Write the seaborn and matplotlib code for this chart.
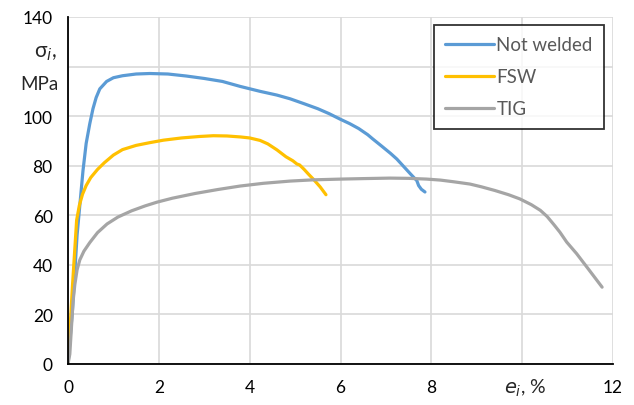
import matplotlib
matplotlib.use("Agg")
import matplotlib.pyplot as plt
import seaborn as sns
import pandas as pd

# Curves (strain e_i in %, stress sigma_i in MPa)
nw_e = [0.0, 0.10, 0.20, 0.26, 0.33, 0.40, 0.48, 0.55, 0.62, 0.70, 0.85, 1.00, 1.20, 1.50,
        1.80, 2.20, 2.60, 3.00, 3.40, 3.79, 4.23, 4.60, 4.89, 5.20, 5.50, 5.75, 5.99, 6.20,
        6.40, 6.60, 6.71, 6.90, 7.10, 7.24, 7.40, 7.55, 7.68, 7.72, 7.78, 7.86]
nw_s = [0.0, 22.0, 52.0, 64.0, 78.0, 89.0, 97.0, 103.0, 107.5, 111.0, 114.0, 115.5, 116.3, 117.0,
        117.2, 117.0, 116.2, 115.2, 114.0, 112.0, 110.0, 108.5, 107.0, 105.0, 103.0, 101.0, 98.8, 97.0,
        95.0, 92.5, 90.8, 88.0, 85.0, 82.7, 79.5, 76.5, 74.0, 72.0, 70.5, 69.4]

fsw_e = [0.0, 0.10, 0.19, 0.25, 0.32, 0.40, 0.50, 0.65, 0.80, 1.00, 1.20, 1.50, 1.80, 2.10,
         2.50, 2.90, 3.20, 3.50, 3.80, 4.00, 4.23, 4.40, 4.60, 4.80, 4.95, 5.04, 5.10, 5.20,
         5.30, 5.40, 5.55, 5.68]
fsw_s = [0.0, 32.0, 58.0, 64.0, 68.5, 72.0, 75.2, 78.5, 81.2, 84.3, 86.5, 88.2, 89.3, 90.3,
         91.2, 91.8, 92.1, 92.0, 91.6, 91.2, 90.2, 88.8, 86.4, 83.6, 82.0, 80.7, 80.3, 78.5,
         76.5, 74.6, 71.5, 68.3]

tig_e = [0.0, 0.04, 0.08, 0.11, 0.15, 0.20, 0.26, 0.35, 0.48, 0.65, 0.86, 1.10, 1.40, 1.70,
         1.96, 2.30, 2.80, 3.30, 3.79, 4.30, 4.89, 5.40, 6.00, 6.50, 7.09, 7.50, 7.90, 8.20,
         8.50, 8.85, 9.10, 9.40, 9.70, 9.95, 10.20, 10.40, 10.55, 10.70, 10.83, 10.98, 11.20,
         11.45, 11.76]
tig_s = [0.0, 4.0, 16.0, 25.0, 32.0, 38.0, 42.0, 45.5, 49.0, 53.0, 56.5, 59.3, 61.8, 63.8,
         65.3, 66.9, 68.8, 70.4, 71.8, 72.9, 73.8, 74.3, 74.6, 74.8, 75.0, 74.9, 74.6, 74.2,
         73.5, 72.6, 71.5, 70.0, 68.3, 66.6, 64.3, 62.0, 59.5, 56.2, 53.2, 49.2, 44.5,
         38.5, 31.0]

series_names = ["Not welded", "FSW", "TIG"]
series_colors = ["#5B9BD5", "#FFC000", "#A5A5A5"]

x_ticks = [0, 2, 4, 6, 8, 10, 12]
x_tick_labels = ["0", "2", "4", "6", "8", "", "12"]
y_ticks = [0, 20, 40, 60, 80, 100, 120, 140]
y_tick_labels = ["0", "20", "40", "60", "80", "100", "", "140"]

df = pd.concat([
    pd.DataFrame({"e": nw_e, "s": nw_s, "series": series_names[0]}),
    pd.DataFrame({"e": fsw_e, "s": fsw_s, "series": series_names[1]}),
    pd.DataFrame({"e": tig_e, "s": tig_s, "series": series_names[2]}),
], ignore_index=True)

sns.set_style("white")
plt.rcParams["font.family"] = ["Lato", "DejaVu Sans"]
plt.rcParams["mathtext.fontset"] = "dejavusans"

fig = plt.figure(figsize=(6.34, 4.06), dpi=100)
ax = fig.add_axes([68 / 634, 1 - 365 / 406, (613 - 68) / 634, (365 - 18) / 406])

sns.lineplot(data=df, x="e", y="s", hue="series", palette=series_colors,
             hue_order=series_names, sort=False, estimator=None, linewidth=2.3,
             ax=ax, legend=False)

ax.set_xlim(0, 12)
ax.set_ylim(0, 140)
ax.set_xticks(x_ticks)
ax.set_xticklabels(x_tick_labels)
ax.set_yticks(y_ticks)
ax.set_yticklabels(y_tick_labels)
ax.grid(True, color="#D9D9D9", linewidth=1.2)
ax.set_axisbelow(True)
for side in ["top", "right"]:
    ax.spines[side].set_visible(False)
for side in ["left", "bottom"]:
    ax.spines[side].set_color("black")
    ax.spines[side].set_linewidth(1.3)
ax.tick_params(axis="both", direction="out", length=5, width=1.3, color="black",
               labelsize=12.5, labelcolor="black", pad=6)
ax.set_xlabel("")
ax.set_ylabel("")

# axis titles sit where the 120 and 10 tick labels would be
fig.text(57 / 634, 1 - 53 / 406, r"σ$_{i}$,", fontsize=15, ha="right", va="center")
fig.text(59 / 634, 1 - 84 / 406, "MPa", fontsize=13.5, ha="right", va="center")
fig.text(525 / 634, 1 - 388 / 406, r"$e_{i}$, %", fontsize=14, ha="center", va="center")

handles = [plt.Line2D([], [], color=c, linewidth=2.3) for c in series_colors]
leg = fig.legend(handles, series_names, loc="upper right",
                 bbox_to_anchor=(604 / 634, 1 - 26 / 406), frameon=True, fancybox=False,
                 fontsize=13.5, handlelength=2.6, handletextpad=0.15, labelspacing=0.8,
                 borderpad=0.6, borderaxespad=0)
leg.get_frame().set_edgecolor("black")
leg.get_frame().set_linewidth(1.3)
for t in leg.get_texts():
    t.set_color("#595959")

fig.savefig("out.png", dpi=100)
